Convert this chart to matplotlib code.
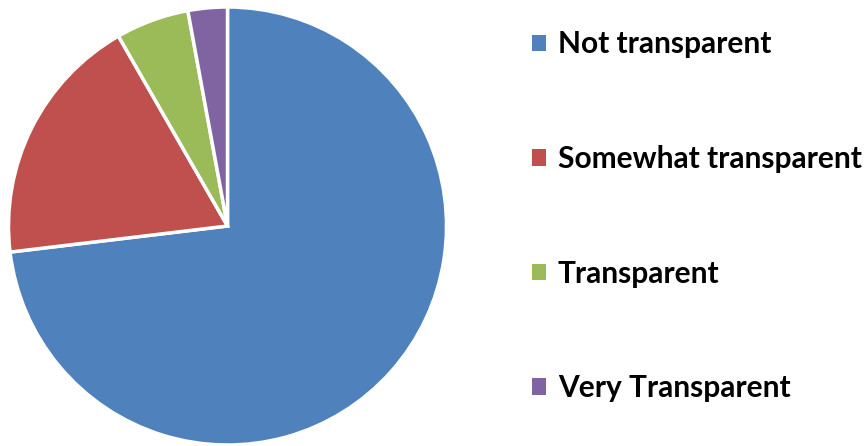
import matplotlib.pyplot as plt
from matplotlib.patches import Patch

labels = ["Not transparent", "Somewhat transparent", "Transparent", "Very Transparent"]
values = [73.1, 18.6, 5.4, 2.9]
colors = ["#4F81BD", "#C0504D", "#9BBB59", "#8064A2"]

plt.rcParams['font.family'] = ['Lato', 'DejaVu Sans']

fig = plt.figure(figsize=(8.68, 4.46), dpi=100)
ax = fig.add_axes([8 / 868, 1 / 446, 439 / 868, 438 / 446])
ax.pie(values, colors=colors, startangle=90, counterclock=False,
       wedgeprops=dict(edgecolor="white", linewidth=2.5))
ax.set_xlim(-1, 1)
ax.set_ylim(-1, 1)
ax.set_aspect("equal")

handles = [Patch(facecolor=c, edgecolor="none") for c in colors]
fig.legend(handles, labels, loc="upper left", bbox_to_anchor=(532 / 868, 1 - 30.5 / 446),
           frameon=False, prop=dict(size=21.5, weight="bold"),
           handlelength=0.47, handleheight=0.47, handletextpad=0.4,
           labelspacing=2.9, borderaxespad=0, borderpad=0)

fig.savefig("out.png", dpi=100)
